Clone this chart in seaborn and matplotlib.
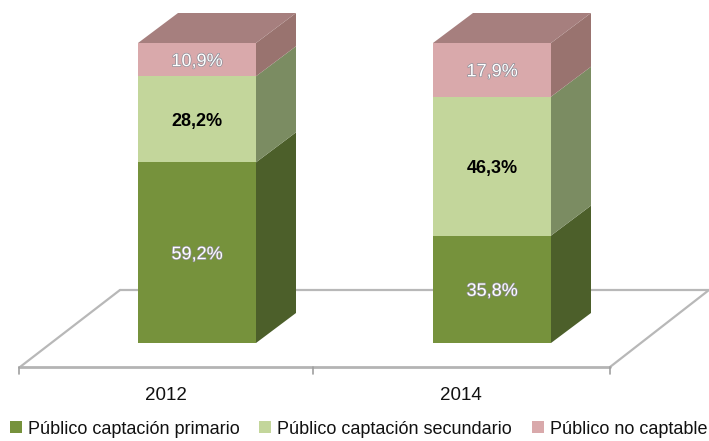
import matplotlib
matplotlib.use('Agg')
import matplotlib.pyplot as plt
import matplotlib.patheffects as pe
from matplotlib.patches import Patch
import numpy as np
import pandas as pd
import seaborn as sns

years = ["2012", "2014"]
series = ["Público captación primario", "Público captación secundario", "Público no captable"]
primario = [59.2, 35.8]
secundario = [28.2, 46.3]
no_captable = [10.9, 17.9]
value_labels = [["59,2%", "35,8%"], ["28,2%", "46,3%"], ["10,9%", "17,9%"]]

front_colors = ["#76923c", "#c3d69b", "#d9a9ab"]
side_colors = ["#4c5f2a", "#7b8c62", "#99736f"]
top_color = "#a67f7e"
label_colors = ["white", "black", "white"]

sns.set_theme(style="white")
plt.rcParams['font.family'] = ['Liberation Sans', 'DejaVu Sans']

W, H = 709, 441
fig = plt.figure(figsize=(W / 100, H / 100), dpi=100)
ax = fig.add_axes([0, 0, 1, 1])

# escala: 295 px entre categorias, 3 px por punto porcentual
PX_X = 295.0
PX_Y = 3.0
x0_px, y0_px = 197.0, 343.0
bar_w = 118 / PX_X
dep_x = 40 / PX_X
dep_y = 30 / PX_Y

values = np.array([primario, secundario, no_captable])
shares = values / values.sum(axis=0) * 100  # columnas apiladas al 100%
bottoms = np.vstack([np.zeros(2), np.cumsum(shares, axis=0)[:-1]])

df = pd.DataFrame({
    "year": np.tile(years, 3),
    "share": shares.ravel(),
    "serie": np.repeat(series, 2),
})

# suelo en perspectiva
to_x = lambda px: (px - x0_px) / PX_X
to_y = lambda py: (y0_px - py) / PX_Y
floor_px = [(20, 367), (610, 367), (709, 290), (120, 290)]
ax.fill([to_x(p[0]) for p in floor_px], [to_y(p[1]) for p in floor_px],
        facecolor="white", edgecolor="none", zorder=1)
ax.plot([to_x(p[0]) for p in floor_px[1:]], [to_y(p[1]) for p in floor_px[1:]],
        color="#b8b8b8", lw=1.6, zorder=1.2)
ax.plot([to_x(120), to_x(20)], [to_y(290), to_y(367)], color="#b8b8b8", lw=1.6, zorder=1.2)
ax.plot([to_x(19), to_x(610)], [to_y(367), to_y(367)], color="#b4b4b4", lw=2.0, zorder=1.3)
for px in [19, 313, 610]:
    ax.plot([to_x(px), to_x(px)], [to_y(367), to_y(374)], color="#a0a0a0", lw=1.2, zorder=1.3)

# caras frontales
for i, name in enumerate(series):
    sub = df[df["serie"] == name]
    sns.barplot(data=sub, x="year", y="share", order=years, color=front_colors[i],
                width=bar_w, saturation=1, bottom=bottoms[i], linewidth=0,
                ax=ax, zorder=3)

# caras laterales y tapa
for j in range(len(years)):
    right = j + bar_w / 2
    left = j - bar_w / 2
    for i in range(len(series)):
        b = bottoms[i, j]
        t = b + shares[i, j]
        ax.fill([right, right + dep_x, right + dep_x, right],
                [b, b + dep_y, t + dep_y, t], color=side_colors[i], lw=0, zorder=3)
        ax.text(j, (b + t) / 2, value_labels[i][j], ha="center", va="center_baseline", fontsize=13,
                color=label_colors[i], fontweight="bold" if i == 1 else "normal",
                path_effects=[pe.withStroke(linewidth=1.0, foreground="#8f8f99")] if i != 1 else None,
                zorder=5)
    top = bottoms[-1, j] + shares[-1, j]
    ax.fill([left, right, right + dep_x, left + dep_x],
            [top, top, top + dep_y, top + dep_y], color=top_color, lw=0, zorder=3)

# etiquetas de categoria
ax.set_xticks([])
ax.set_yticks([])
ax.set_xlabel("")
ax.set_ylabel("")
for j, year in enumerate(years):
    ax.text(j - 31 / PX_X, to_y(395), year, ha="center", va="center", fontsize=13.5, color="#111111")

ax.set_xlim(to_x(0), to_x(W))
ax.set_ylim(to_y(H), to_y(0))
sns.despine(ax=ax, left=True, bottom=True)

handles = [Patch(facecolor=c, edgecolor="none") for c in front_colors]
ax.legend(handles, series, loc="center", bbox_to_anchor=(358.5 / W, 1 - 429 / H), ncol=3, frameon=False,
          fontsize=13, handlelength=0.67, handleheight=0.67, handletextpad=0.33, columnspacing=1.1,
          labelcolor="#111111", borderpad=0, borderaxespad=0)

fig.savefig("out.png", dpi=100)
